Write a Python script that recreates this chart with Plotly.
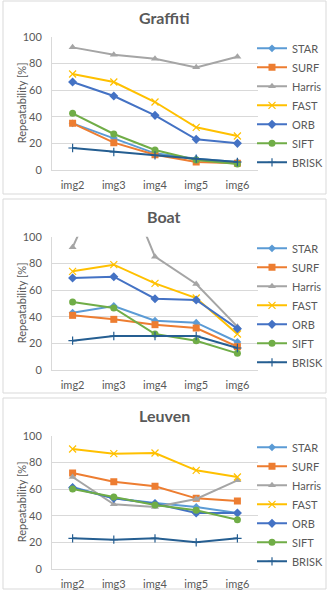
import plotly.graph_objects as go

categories = ["img2", "img3", "img4", "img5", "img6"]
series_names = ["STAR", "SURF", "Harris", "FAST", "ORB", "SIFT", "BRISK"]
panel_titles = ["Graffiti", "Boat", "Leuven"]
y_ticks = [0, 20, 40, 60, 80, 100]
y_title = "Repeatability [%]"

# Graffiti
graffiti_star = [35, 24, 12.5, 8.5, 6]
graffiti_surf = [35, 20.5, 11.5, 6, 5]
graffiti_harris = [92, 86.5, 83.5, 77, 85]
graffiti_fast = [72, 66, 51, 32, 25.5]
graffiti_orb = [66, 55.5, 41, 23, 20]
graffiti_sift = [42.5, 27, 15, 7.5, 4.5]
graffiti_brisk = [16.5, 13.5, 11, 8.5, 6]

# Boat
boat_star = [43, 48, 37, 35.5, 21]
boat_surf = [41, 38, 34, 31.5, 17.5]
boat_harris = [92, 160, 85, 64.5, 32.5]
boat_fast = [74, 79, 65, 54, 27]
boat_orb = [69, 70, 53.5, 52.5, 31]
boat_sift = [51, 46.5, 27, 22, 12.5]
boat_brisk = [22, 25.5, 25.5, 25.5, 16.5]

# Leuven
leuven_star = [61.5, 53, 49.5, 46.5, 42]
leuven_surf = [72, 65.5, 62, 53, 51]
leuven_harris = [69, 48.5, 46.5, 52.5, 66.5]
leuven_fast = [90, 86.5, 87, 74, 69]
leuven_orb = [61, 53, 49, 42, 42]
leuven_sift = [60, 54, 48, 44, 37]
leuven_brisk = [23, 22, 23, 20, 23]

panels = [
    [graffiti_star, graffiti_surf, graffiti_harris, graffiti_fast, graffiti_orb, graffiti_sift, graffiti_brisk],
    [boat_star, boat_surf, boat_harris, boat_fast, boat_orb, boat_sift, boat_brisk],
    [leuven_star, leuven_surf, leuven_harris, leuven_fast, leuven_orb, leuven_sift, leuven_brisk],
]

styles = {
    "STAR": dict(color="#5B9BD5", symbol="diamond", size=6, lc=None),
    "SURF": dict(color="#ED7D31", symbol="square", size=7, lc=None),
    "Harris": dict(color="#A5A5A5", symbol="triangle-up", size=7, lc=None),
    "FAST": dict(color="#FFC000", symbol="x-thin-open", size=7, lc="#FFC000"),
    "ORB": dict(color="#4472C4", symbol="diamond", size=7, lc=None),
    "SIFT": dict(color="#70AD47", symbol="circle", size=7, lc=None),
    "BRISK": dict(color="#255E91", symbol="cross-thin-open", size=6, lc="#255E91"),
}

W, H = 328, 591
def px(x):
    return x / W
def py(y):
    return 1 - y / H

# plot area pixel boxes (top of 100, bottom at 0)
plot_boxes = [(36.7, 170.0), (236.7, 370.0), (435.7, 569.0)]
panel_boxes = [(1, 194), (199, 393), (398, 589)]
title_y = [17, 216, 415]

FONT = "Lato"
GRAY = "#595959"
GRID = "#D9D9D9"

fig = go.Figure()
layout = dict(
    width=W, height=H, margin=dict(l=0, r=0, t=0, b=0, autoexpand=False),
    paper_bgcolor="white", plot_bgcolor="white",
    font=dict(family=FONT, color=GRAY, size=11),
    shapes=[], annotations=[],
)

for i, data in enumerate(panels):
    suffix = "" if i == 0 else str(i + 1)
    xa = "x" + suffix
    ya = "y" + suffix
    leg = "legend" + suffix
    for name, vals in zip(series_names, data):
        s = styles[name]
        marker = dict(symbol=s["symbol"], size=s["size"], color=s["color"])
        if s["lc"]:
            marker["line"] = dict(color=s["lc"], width=1.2)
        fig.add_trace(go.Scatter(
            x=categories, y=vals, name=name, mode="lines+markers",
            line=dict(color=s["color"], width=2), marker=marker,
            xaxis=xa, yaxis=ya, legend=leg,
        ))
    top, bot = plot_boxes[i]
    layout["xaxis" + suffix] = dict(
        domain=[px(52), px(258)], anchor=ya, type="category",
        range=[-0.5, 4.5], showgrid=False, showline=True, linecolor=GRID,
        ticks="", tickfont=dict(size=11, color=GRAY), ticklabelstandoff=5,
        fixedrange=True, automargin=False,
    )
    layout["yaxis" + suffix] = dict(
        domain=[py(bot), py(top)], anchor=xa, range=[0, 100],
        tickvals=y_ticks, showgrid=True, gridcolor=GRID, gridwidth=1,
        zeroline=False, showline=True, linecolor=GRID,
        tickfont=dict(size=11, color=GRAY), ticklabelstandoff=7,
        fixedrange=True, automargin=False,
    )
    layout[leg] = dict(
        x=px(252), xanchor="left", y=py((top + bot) / 2 + 2), yanchor="middle",
        font=dict(size=11, color=GRAY), bgcolor="rgba(0,0,0,0)",
        tracegroupgap=0, itemsizing="trace",
    )
    y0, y1 = panel_boxes[i]
    layout["shapes"].append(dict(
        type="rect", xref="paper", yref="paper",
        x0=px(3), x1=px(326), y0=py(y1), y1=py(y0),
        line=dict(color=GRID, width=1), fillcolor="rgba(0,0,0,0)", layer="below",
    ))
    layout["annotations"].append(dict(
        text="<b>" + panel_titles[i] + "</b>", xref="paper", yref="paper",
        x=px(164), y=py(title_y[i]), xanchor="center", yanchor="middle",
        showarrow=False, font=dict(size=16, color=GRAY, family=FONT),
    ))
    layout["annotations"].append(dict(
        text=y_title, xref="paper", yref="paper", textangle=-90,
        x=px(21), y=py((top + bot) / 2), xanchor="center", yanchor="middle",
        showarrow=False, font=dict(size=11, color=GRAY, family=FONT),
    ))

fig.update_layout(**layout)
fig.write_html("out.html")
